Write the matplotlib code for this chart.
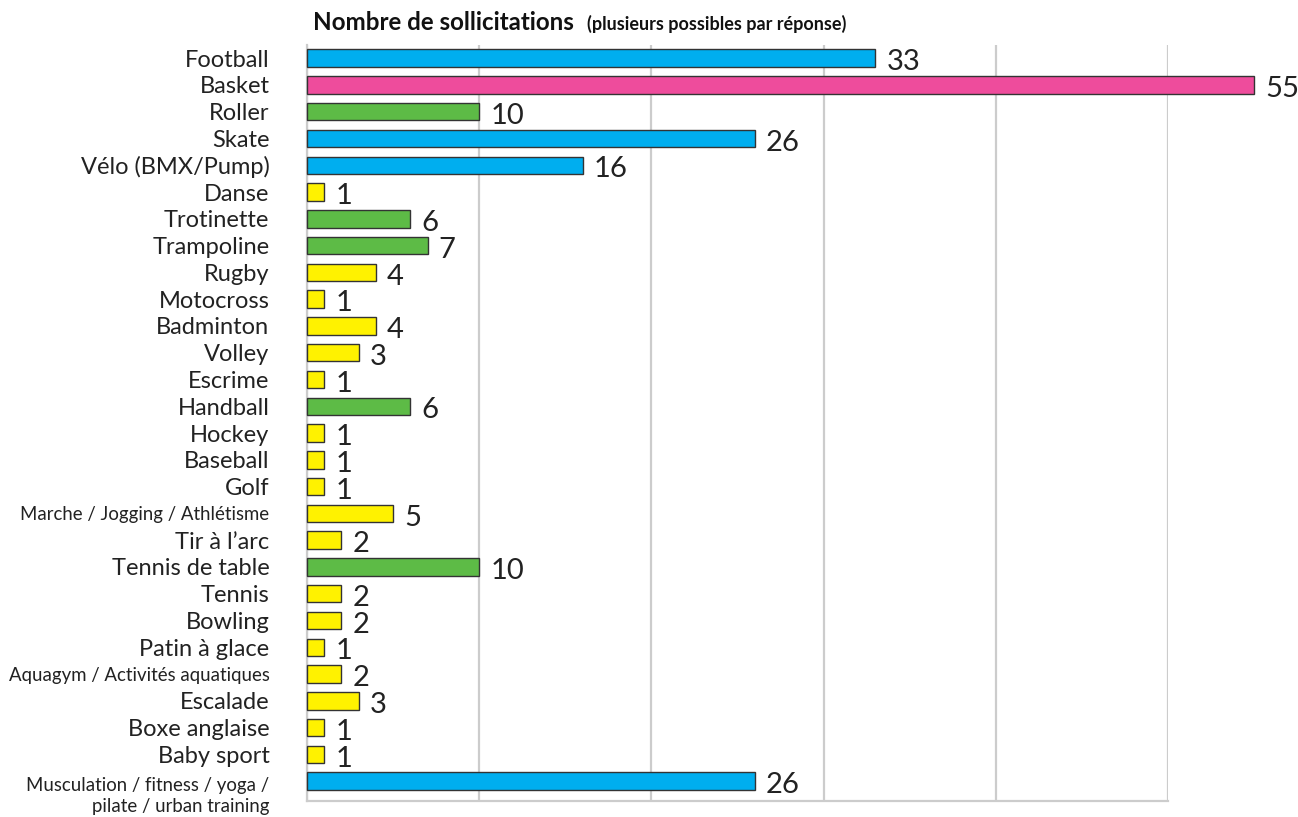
import matplotlib.pyplot as plt
import matplotlib.transforms as mtransforms

sports = ["Football", "Basket", "Roller", "Skate", "Vélo (BMX/Pump)", "Danse",
          "Trotinette", "Trampoline", "Rugby", "Motocross", "Badminton", "Volley",
          "Escrime", "Handball", "Hockey", "Baseball", "Golf",
          "Marche / Jogging / Athlétisme", "Tir à l’arc", "Tennis de table",
          "Tennis", "Bowling", "Patin à glace", "Aquagym / Activités aquatiques",
          "Escalade", "Boxe anglaise", "Baby sport",
          "Musculation / fitness / yoga /\npilate / urban training"]
counts = [33, 55, 10, 26, 16, 1, 6, 7, 4, 1, 4, 3, 1, 6, 1, 1, 1, 5, 2, 10,
          2, 2, 1, 2, 3, 1, 1, 26]
small_labels = ["Marche / Jogging / Athlétisme", "Aquagym / Activités aquatiques",
                "Musculation / fitness / yoga /\npilate / urban training"]


def bar_color(v):
    if v == max(counts):
        return "#EE4C9C"
    if v >= 16:
        return "#00AEEF"
    if v >= 6:
        return "#5DBB46"
    return "#FFF200"


plt.rcParams['font.family'] = ['Lato', 'DejaVu Sans']

fig = plt.figure(figsize=(12.98, 8.17), dpi=100)
ax = fig.add_axes([307/1298, 1 - 801/817, (1168-307)/1298, (801-45)/817])

y = list(range(len(sports)))
ax.barh(y, counts, height=0.65, color=[bar_color(v) for v in counts],
        edgecolor="#333333", linewidth=1, zorder=3, clip_on=False)

for yi, v in zip(y, counts):
    ax.annotate(str(v), (v, yi), xytext=(8, -3), textcoords="offset points",
                va="center", ha="left", fontsize=21, color="#222222",
                annotation_clip=False)

ax.set_xlim(0, 50)
ax.set_ylim(27.74, -0.49)
ax.set_xticks([0, 10, 20, 30, 40, 50])
ax.set_xticklabels([])
ax.tick_params(axis="x", length=0)
ax.grid(axis="x", color="#cccccc", linewidth=1.6, zorder=0)
ax.set_yticks(y)
ax.set_yticklabels(sports)
ax.tick_params(axis="y", length=0, pad=27, labelsize=17, labelcolor="#222222")
for lbl in ax.get_yticklabels():
    if lbl.get_text() in small_labels:
        lbl.set_fontsize(13.4)
        lbl.set_linespacing(1.3)
    if "\n" in lbl.get_text():
        lbl.set_transform(lbl.get_transform() +
                          mtransforms.ScaledTranslation(0, -11/100, fig.dpi_scale_trans))

for s in ["top", "right"]:
    ax.spines[s].set_visible(False)
ax.spines["left"].set_color("#cccccc")
ax.spines["left"].set_linewidth(1.6)
ax.spines["bottom"].set_color("#cccccc")
ax.spines["bottom"].set_linewidth(1.6)

fig.text(313/1298, 1 - 22/817, "Nombre de sollicitations", fontsize=17.4,
         fontweight="bold", va="center", ha="left", color="#111111")
fig.text(587/1298, 1 - 24/817, "(plusieurs possibles par réponse)", fontsize=13,
         fontweight="bold", va="center", ha="left", color="#111111")

fig.savefig("out.png", dpi=100)
